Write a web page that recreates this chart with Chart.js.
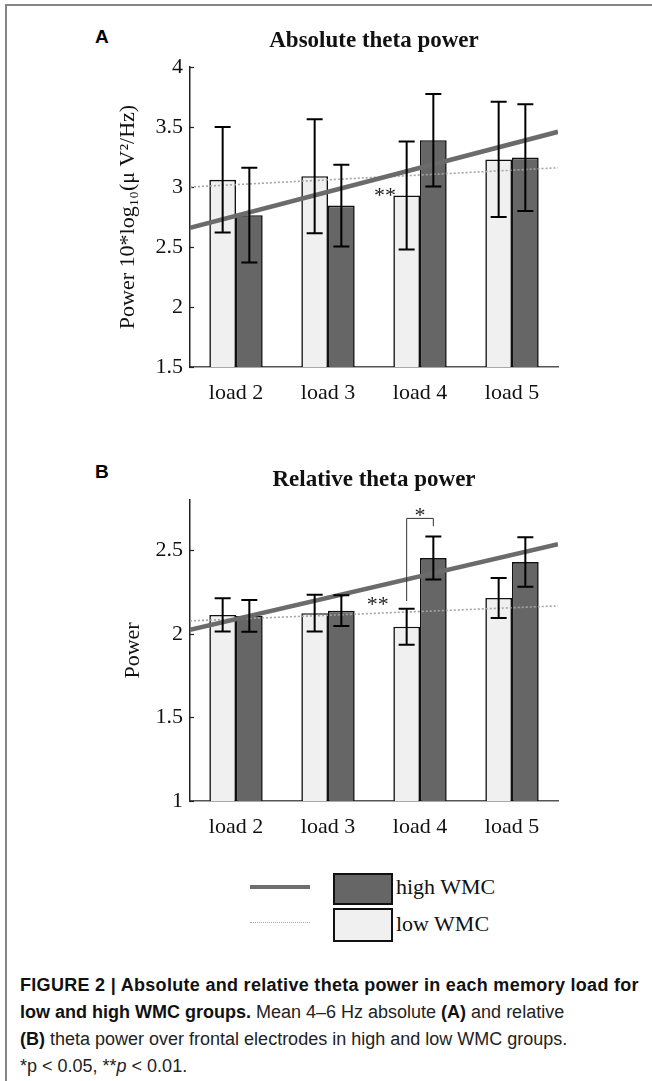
<!DOCTYPE html>
<html>
<head>
<meta charset="utf-8">
<script src="https://cdn.jsdelivr.net/npm/chart.js@4.4.1/dist/chart.umd.min.js"></script>
<style>
  html, body { margin: 0; padding: 0; background: #fff; }
  #page { position: relative; width: 652px; height: 1081px; overflow: hidden; background: #fff; }
  .frame { position: absolute; left: 5px; top: 4px; width: 700px; height: 1100px; border-top: 2px solid #858585; border-left: 2px solid #858585; }
  .panel { position: absolute; font-family: 'Liberation Sans', Arial, sans-serif; font-weight: bold; font-size: 19px; color: #000; }
  canvas { position: absolute; left: 0; }
  .lg { position: absolute; }
  .lgtext { position: absolute; font-family: 'Liberation Serif', serif; font-size: 22px; color: #111; line-height: 26px; }
  .caption { position: absolute; left: 20px; top: 972px; font-family: 'Liberation Sans', Arial, sans-serif; font-size: 18px; line-height: 27px; color: #222; white-space: nowrap; }
  .caption b { color: #111; }
  .caption .l1 { letter-spacing: 0.3px; }
</style>
</head>
<body>
<div id="page">
  <div class="frame"></div>
  <div class="panel" style="left:95px; top:26px;">A</div>
  <div class="panel" style="left:95px; top:461px;">B</div>
  <canvas id="cA" width="652" height="430" style="top:0px;"></canvas>
  <canvas id="cA2" width="652" height="430" style="top:0px;"></canvas>
  <canvas id="cB" width="652" height="420" style="top:430px;"></canvas>
  <canvas id="cB2" width="652" height="420" style="top:430px;"></canvas>

  <div class="lg" style="left:250px; top:885px; width:60px; height:4px; background:#6e6e6e;"></div>
  <div class="lg" style="left:250px; top:922px; width:60px; height:0; border-top:1.5px dotted #a8a8a8;"></div>
  <div class="lg" style="left:333px; top:873px; width:56px; height:28px; background:#666; border:2px solid #111;"></div>
  <div class="lg" style="left:333px; top:908px; width:56px; height:30px; background:#f0f0f0; border:2px solid #111;"></div>
  <div class="lgtext" style="left:396px; top:874px;">high WMC</div>
  <div class="lgtext" style="left:396px; top:911px;">low WMC</div>

  <div class="caption"><b class="l1">FIGURE 2 | Absolute and relative theta power in each memory load for</b><br><b>low and high WMC groups.</b> Mean 4–6 Hz absolute <b>(A)</b> and relative<br><b>(B)</b> theta power over frontal electrodes in high and low WMC groups.<br>*p &lt; 0.05, **<i>p</i> &lt; 0.01.</div>
</div>
<script>
// ---------- data ----------
const categories = ['load 2', 'load 3', 'load 4', 'load 5'];

// Panel A: absolute theta power
const absLow      = [3.06, 3.09, 2.93, 3.23];
const absLowErr   = [0.44, 0.475, 0.45, 0.48];
const absHigh     = [2.765, 2.845, 3.39, 3.245];
const absHighErr  = [0.395, 0.34, 0.385, 0.445];
const trendX      = [0.5, 4.5];
const absTrendHigh = [2.66, 3.46];
const absTrendLow  = [3.00, 3.16];
const absYTicks   = [1.5, 2, 2.5, 3, 3.5, 4];
const absStars    = [{ text: '**', x: 2.62, y: 2.975 }];

// Panel B: relative theta power
const relLow      = [2.113, 2.123, 2.042, 2.214];
const relLowErr   = [0.10, 0.11, 0.107, 0.119];
const relHigh     = [2.107, 2.138, 2.453, 2.429];
const relHighErr  = [0.095, 0.092, 0.128, 0.148];
const relTrendHigh = [2.024, 2.536];
const relTrendLow  = [2.077, 2.167];
const relYTicks   = [1, 1.5, 2, 2.5];
const relStars    = [{ text: '**', x: 2.54, y: 2.208 }, { text: '*', x: 3.0, y: 2.738 }];
const relBracket  = { cat: 2, yLowLeg: 2.196, yTop: 2.69, yHighLeg: 2.643 };

// ---------- helpers ----------
const SERIF = "'Liberation Serif', 'Times New Roman', serif";
Chart.defaults.font.family = SERIF;
Chart.defaults.color = '#111';

const innerTicks = {
  id: 'innerTicks',
  afterDraw(chart) {
    const ctx = chart.ctx, y = chart.scales.y, ca = chart.chartArea;
    ctx.save();
    ctx.strokeStyle = '#222'; ctx.lineWidth = 1.2;
    y.ticks.forEach(t => {
      const py = Math.round(y.getPixelForValue(t.value)) + 0.5;
      ctx.beginPath(); ctx.moveTo(ca.left, py); ctx.lineTo(ca.left + 4, py); ctx.stroke();
    });
    ctx.restore();
  }
};

function overlayPlugin(barChart, errs, stars, bracket) {
  return {
    id: 'overlay',
    afterDatasetsDraw(chart) {
      const ctx = chart.ctx;
      const y = chart.scales.y, xl = chart.scales.x;
      ctx.save();
      // error bars (x from the bar chart's own bar elements)
      ctx.strokeStyle = '#000'; ctx.lineWidth = 2;
      errs.forEach((errArr, di) => {
        const meta = barChart.getDatasetMeta(di);
        const vals = barChart.data.datasets[di].data;
        meta.data.forEach((bar, i) => {
          const yt = y.getPixelForValue(vals[i] + errArr[i]);
          const yb = y.getPixelForValue(vals[i] - errArr[i]);
          const x = bar.x, cw = 8;
          ctx.beginPath();
          ctx.moveTo(x, yt); ctx.lineTo(x, yb);
          ctx.moveTo(x - cw, yt); ctx.lineTo(x + cw, yt);
          ctx.moveTo(x - cw, yb); ctx.lineTo(x + cw, yb);
          ctx.stroke();
        });
      });
      // bracket
      if (bracket) {
        const bl = barChart.getDatasetMeta(0).data[bracket.cat].x;
        const bh = barChart.getDatasetMeta(1).data[bracket.cat].x;
        ctx.strokeStyle = '#333'; ctx.lineWidth = 1;
        ctx.beginPath();
        ctx.moveTo(bl, y.getPixelForValue(bracket.yLowLeg));
        ctx.lineTo(bl, y.getPixelForValue(bracket.yTop));
        ctx.lineTo(bh, y.getPixelForValue(bracket.yTop));
        ctx.lineTo(bh, y.getPixelForValue(bracket.yHighLeg));
        ctx.stroke();
      }
      // significance stars
      ctx.fillStyle = '#222';
      ctx.font = '22px ' + SERIF;
      ctx.textAlign = 'center';
      ctx.textBaseline = 'middle';
      stars.forEach(s => {
        ctx.fillText(s.text, xl.getPixelForValue(s.x), y.getPixelForValue(s.y) + 6);
      });
      ctx.restore();
    }
  };
}

function makePanel(idBars, idLines, cfg) {
  const dsBar = (label, data, color) => ({
    label, data,
    backgroundColor: color, borderColor: '#111', borderWidth: 1.6,
    categoryPercentage: 0.58, barPercentage: 1.0
  });
  const barCanvas = document.getElementById(idBars);
  const barChart = new Chart(barCanvas, {
    type: 'bar',
    data: {
      labels: categories,
      datasets: [
        dsBar('low WMC', cfg.low, '#f0f0f0'),
        dsBar('high WMC', cfg.high, '#666666')
      ]
    },
    options: {
      responsive: false, animation: false,
      layout: { padding: { left: 0, right: 94, top: cfg.padTop, bottom: 0 } },
      plugins: {
        legend: { display: false }, tooltip: { enabled: false },
        title: {
          display: true, text: cfg.title, fullSize: false, color: '#111',
          font: { size: 23, weight: 'bold', family: SERIF },
          padding: { top: 0, bottom: cfg.titleGap }
        }
      },
      scales: {
        x: {
          type: 'category', offset: true,
          grid: { display: false, drawTicks: false },
          border: { display: true, color: '#555', width: 1.5 },
          ticks: { font: { size: 22, family: SERIF }, color: '#111', padding: 13 },
          afterFit: s => { s.height = cfg.xHeight; }
        },
        y: {
          min: cfg.yMin, max: cfg.yMax,
          grid: { display: false, drawTicks: false },
          border: { display: true, color: '#222', width: 1.5 },
          afterBuildTicks: s => { s.ticks = cfg.yTicks.map(v => ({ value: v })); },
          ticks: { font: { size: 22, family: SERIF }, color: '#111', padding: 7, callback: v => String(v) },
          title: {
            display: true, text: cfg.yTitle, color: '#111',
            font: { size: 22, family: SERIF },
            padding: { top: cfg.yTitlePad, bottom: 0 }
          },
          afterFit: s => { s.width = 190; }
        }
      }
    },
    plugins: [innerTicks]
  });

  const ca = barChart.chartArea;
  const lineCanvas = document.getElementById(idLines);
  const trend = (label, ys, color, width, dash) => ({
    label, showLine: true,
    data: trendX.map((x, i) => ({ x, y: ys[i] })),
    borderColor: color, borderWidth: width, borderDash: dash,
    pointRadius: 0, fill: false
  });
  new Chart(lineCanvas, {
    type: 'scatter',
    data: {
      datasets: [
        trend('high WMC trend', cfg.trendHigh, '#6b6b6b', 4.5, []),
        trend('low WMC trend', cfg.trendLow, '#a5a5a5', 1.6, [2, 2])
      ]
    },
    options: {
      responsive: false, animation: false,
      layout: { padding: { left: ca.left, right: lineCanvas.width - ca.right, top: ca.top, bottom: lineCanvas.height - ca.bottom } },
      plugins: { legend: { display: false }, tooltip: { enabled: false } },
      scales: {
        x: { type: 'linear', min: 0.5, max: 4.5, display: false },
        y: { type: 'linear', min: cfg.yMin, max: cfg.yMax, display: false }
      }
    },
    plugins: [overlayPlugin(barChart, cfg.errs, cfg.stars, cfg.bracket)]
  });
}

makePanel('cA', 'cA2', {
  title: 'Absolute theta power',
  low: absLow, high: absHigh, trendHigh: absTrendHigh, trendLow: absTrendLow,
  errs: [absLowErr, absHighErr], stars: absStars, bracket: null,
  yMin: 1.5, yMax: 4, yTicks: absYTicks,
  yTitle: 'Power 10*log\u2081\u2080(\u03BC V\u00B2/Hz)', yTitlePad: 115,
  padTop: 27, titleGap: 12.4, xHeight: 63
});

makePanel('cB', 'cB2', {
  title: 'Relative theta power',
  low: relLow, high: relHigh, trendHigh: relTrendHigh, trendLow: relTrendLow,
  errs: [relLowErr, relHighErr], stars: relStars, bracket: relBracket,
  yMin: 1, yMax: 2.8, yTicks: relYTicks,
  yTitle: 'Power', yTitlePad: 120,
  padTop: 36, titleGap: 6.4, xHeight: 49
});
</script>
</body>
</html>
